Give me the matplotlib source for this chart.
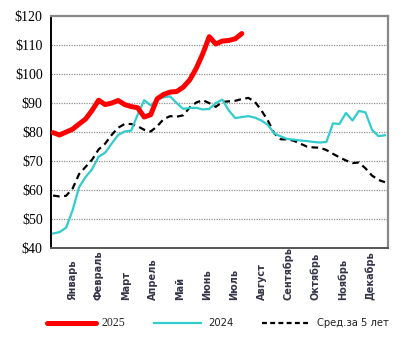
import numpy as np
import matplotlib
matplotlib.use("Agg")
import matplotlib.pyplot as plt
from matplotlib.lines import Line2D
from matplotlib.transforms import blended_transform_factory

months = ["Январь", "Февраль", "Март", "Апрель", "Май", "Июнь", "Июль",
          "Август", "Сентябрь", "Октябрь", "Ноябрь", "Декабрь"]

y2025 = [79.8, 79.0, 80.0, 81.0, 82.8, 84.5, 87.5, 91.0, 89.5, 90.0,
         90.9, 89.5, 88.8, 88.4, 85.2, 86.0, 91.5, 93.0, 93.8, 94.0,
         95.5, 98.0, 102.0, 107.0, 112.9, 110.4, 111.4, 111.6, 112.2, 114.0]

y2024 = [45.0, 45.5, 47.0, 53.0, 61.0, 64.5, 67.2, 71.5, 72.9, 76.0,
         79.0, 80.2, 80.5, 86.0, 91.0, 89.2, 91.2, 92.0, 92.3, 90.0,
         88.0, 88.3, 88.4, 87.8, 88.0, 90.0, 91.2, 87.5, 84.8, 85.2,
         85.5, 85.0, 84.0, 82.5, 79.5, 78.5, 77.6, 77.4, 77.1, 76.9,
         76.6, 76.4, 76.6, 83.0, 82.8, 86.6, 84.0, 87.3, 86.8, 80.8,
         78.6, 78.9]

avg5 = [58.1, 57.8, 58.0, 60.5, 65.5, 68.0, 70.5, 74.0, 76.0, 79.0,
        81.5, 82.8, 82.8, 82.0, 80.8, 80.2, 82.0, 84.5, 85.5, 85.3,
        85.8, 88.5, 90.2, 91.0, 90.0, 88.7, 90.4, 90.6, 90.8, 91.4,
        91.8, 90.5, 87.5, 84.0, 79.5, 77.5, 77.5, 77.0, 76.0, 75.0,
        74.7, 74.6, 73.8, 72.5, 71.3, 70.2, 69.3, 69.5, 67.5, 65.0,
        63.5, 62.7]

yticks = [40, 50, 60, 70, 80, 90, 100, 110, 120]
ytick_labels = ["$" + str(v) for v in yticks]

fig = plt.figure(figsize=(4.05, 3.51), dpi=100)
ax = fig.add_axes([0.126, 0.2934, 0.832, 0.6606])

ax.plot(np.arange(len(avg5)), avg5, color="black", lw=1.6, dashes=(3, 2), zorder=3)
ax.plot(np.arange(len(y2024)), y2024, color="#33CCCC", lw=1.6, zorder=4)
ax.plot(np.arange(len(y2025)), y2025, color="#FF0000", lw=3.6,
        solid_joinstyle="round", solid_capstyle="round", zorder=5)

ax.set_xlim(-0.31, 51.46)
ax.set_ylim(40, 120)
ax.set_yticks(yticks)
ax.set_yticklabels(ytick_labels, fontfamily="Liberation Serif", fontsize=10)
ax.tick_params(axis="y", length=0, pad=6)
ax.set_xticks([])
for v in yticks[1:-1]:
    ax.axhline(v, color="#909090", lw=0.9, ls=(0, (1, 1)), zorder=1)

for s in ["top", "right"]:
    ax.spines[s].set_color("#888888")
    ax.spines[s].set_linewidth(1.6)
ax.spines["left"].set_color("black")
ax.spines["left"].set_linewidth(1.4)
ax.spines["bottom"].set_color("#555555")
ax.spines["bottom"].set_linewidth(1.4)

month_pos = 2.9 + 4.16 * np.arange(len(months))
trans = blended_transform_factory(ax.transData, fig.transFigure)
for p, m in zip(month_pos, months):
    ax.text(p, 1 - 300 / 351, m, transform=trans, rotation=90, ha="center",
            va="bottom", fontsize=7, color="#353548", fontfamily="DejaVu Sans",
            fontweight="semibold", clip_on=False)

ly = 1 - 323 / 351
def fx(px):
    return px / 405
fig.add_artist(Line2D([fx(47), fx(96)], [ly, ly], color="#FF0000", lw=3.6,
                      solid_capstyle="round", transform=fig.transFigure))
fig.text(fx(102), ly, "2025", fontfamily="Liberation Serif", fontsize=8.5,
         va="center", ha="left", color="#222222")
fig.add_artist(Line2D([fx(154), fx(201)], [ly, ly], color="#33CCCC", lw=1.6,
                      transform=fig.transFigure))
fig.text(fx(208), ly, "2024", fontfamily="DejaVu Sans", fontsize=7.2,
         va="center", ha="left", color="#222222")
fig.add_artist(Line2D([fx(262), fx(310)], [ly, ly], color="black", lw=1.6,
                      dashes=(2.2, 1.5), transform=fig.transFigure))
fig.text(fx(317), ly, "Сред.за 5 лет", fontfamily="DejaVu Sans", fontsize=7.2,
         va="center", ha="left", color="#222222")

fig.savefig("out.png", dpi=100)
